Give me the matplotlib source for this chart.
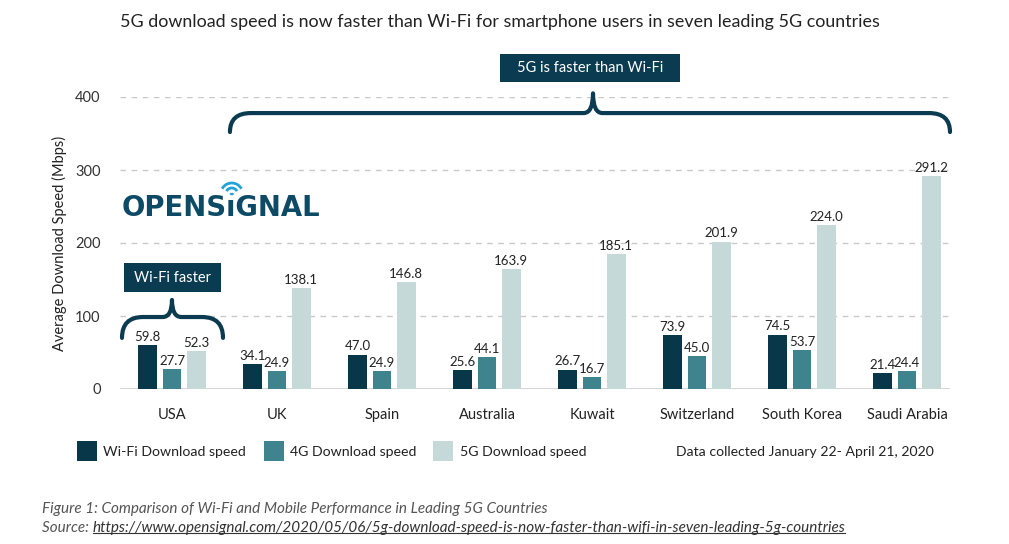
import matplotlib
matplotlib.use("Agg")
import matplotlib.pyplot as plt
from matplotlib.path import Path
from matplotlib.patches import PathPatch, Rectangle, Arc
import numpy as np

plt.rcParams['font.family'] = ['Lato', 'DejaVu Sans']

countries = ["USA", "UK", "Spain", "Australia", "Kuwait", "Switzerland", "South Korea", "Saudi Arabia"]
wifi = [59.8, 34.1, 47.0, 25.6, 26.7, 73.9, 74.5, 21.4]
g4 = [27.7, 24.9, 24.9, 44.1, 16.7, 45.0, 53.7, 24.4]
g5 = [52.3, 138.1, 146.8, 163.9, 185.1, 201.9, 224.0, 291.2]
series_names = ["Wi-Fi Download speed", "4G Download speed", "5G Download speed"]
yticks = [0, 100, 200, 300, 400]

c_wifi = "#08374a"
c_4g = "#3f838f"
c_5g = "#c5d9d8"
colors = [c_wifi, c_4g, c_5g]
navy = "#0b3b50"

W, H = 1009, 544
fig = plt.figure(figsize=(10.09, 5.44), dpi=100)
ax = fig.add_axes([120/W, 1-389/H, 830/W, 292/H])

x = np.arange(len(countries))
bw = 0.18
off = 0.23
for i, (vals, col) in enumerate(zip([wifi, g4, g5], colors)):
    pos = x + (i-1)*off
    ax.bar(pos, vals, width=bw, color=col, zorder=3)
    for p, v in zip(pos, vals):
        ax.text(p, v + 3, f"{v:.1f}", ha='center', va='bottom', fontsize=9.5, color='#222222', zorder=4)

ax.set_xlim(-0.495, 7.41)
ax.set_ylim(0, 400)
ax.set_yticks(yticks)
ax.set_yticklabels([str(t) for t in yticks], fontsize=10.5, color='#333333')
ax.set_xticks(x)
ax.set_xticklabels(countries, fontsize=10.5, color='#222222')
ax.tick_params(axis='both', length=0)
ax.tick_params(axis='y', pad=14)
ax.tick_params(axis='x', pad=14)
for s in ax.spines.values():
    s.set_visible(False)
for t in yticks[1:]:
    ax.axhline(t, color='#c8c8c8', lw=1, ls=(0, (4, 4)), zorder=1)
ax.axhline(0, color='#cfcfcf', lw=2, zorder=2)
ax.set_ylabel("Average Download Speed (Mbps)", fontsize=10.5, color='#222222', labelpad=6)

def brace(x0, x1, xc, yend, yh, ytip, r, rt):
    verts = [(x0, yend), (x0, yh), (x0 + r, yh),
             (xc - rt, yh), (xc, yh), (xc, ytip),
             (xc, yh), (xc + rt, yh),
             (x1 - r, yh), (x1, yh), (x1, yend)]
    codes = [Path.MOVETO, Path.CURVE3, Path.CURVE3,
             Path.LINETO, Path.CURVE3, Path.CURVE3,
             Path.CURVE3, Path.CURVE3,
             Path.LINETO, Path.CURVE3, Path.CURVE3]
    p = PathPatch(Path(verts, codes), fill=False, ec=navy, lw=3, clip_on=False, zorder=5,
                  capstyle='round', joinstyle='round')
    ax.add_patch(p)

brace(0.552, 7.41, 4.01, 352, 378, 405, 0.2, 0.09)
brace(-0.476, 0.486, 0.0, 70, 98.6, 122, 0.2, 0.09)

def box(px0, px1, py0, py1, text):
    fig.patches.append(Rectangle((px0/W, 1-py1/H), (px1-px0)/W, (py1-py0)/H,
                                 transform=fig.transFigure, fc=navy, ec='none'))
    fig.text((px0+px1)/2/W, 1-(py0+py1)/2/H, text, ha='center', va='center',
             color='white', fontsize=10.5)

box(500, 680, 54, 82, "5G is faster than Wi-Fi")
box(124, 221, 263, 292, "Wi-Fi faster")

fig.text(120/W, 1-22/H, "5G download speed is now faster than Wi-Fi for smartphone users in seven leading 5G countries",
         fontsize=12.85, color='#222222', va='center', ha='left')

# logo
logo = fig.text(122/W, 1-208/H, "OPENSıGNAL", fontsize=19.8, fontweight='bold', color='#0d4a66',
                va='center', ha='left', family=['DejaVu Sans'])
fig.canvas.draw()
r = fig.canvas.get_renderer()
pre = fig.text(0, 0, "OPENS", fontsize=19.8, fontweight='bold', family=['DejaVu Sans'])
ib = fig.text(0, 0, "ı", fontsize=19.8, fontweight='bold', family=['DejaVu Sans'])
lb = logo.get_window_extent(r)
w_pre = pre.get_window_extent(r).width
w_i = ib.get_window_extent(r).width
pre.remove(); ib.remove()
icx = lb.x0 + w_pre + w_i/2
icy = H - 194
blue = "#23a3d9"
fig.patches.append(plt.Circle((icx/W, icy/H), 2.2/W, transform=fig.transFigure, fc=blue, ec='none'))
for rad in (6, 11):
    fig.patches.append(Arc((icx/W, icy/H), 2*rad/W, 2*rad/H, theta1=45, theta2=135,
                           transform=fig.transFigure, color=blue, lw=2))

# legend
leg_items = [(77, 103), (264, 290), (433, 460)]
for (sx, tx), col, name in zip(leg_items, colors, series_names):
    fig.patches.append(Rectangle((sx/W, 1-461/H), 20/W, 20/H,
                                 transform=fig.transFigure, fc=col, ec='none'))
    fig.text(tx/W, 1-452/H, name, fontsize=10.2, color='#222222', va='center', ha='left')
fig.text(676/W, 1-452/H, "Data collected January 22- April 21, 2020", fontsize=10.1,
         color='#222222', va='center', ha='left')

fig.text(42/W, 1-509/H, "Figure 1: Comparison of Wi-Fi and Mobile Performance in Leading 5G Countries",
         fontsize=11.0, style='italic', color='#555555', va='center', ha='left')
src = fig.text(42/W, 1-528/H, "Source: ", fontsize=11.0, style='italic', color='#555555',
               va='center', ha='left')
fig.canvas.draw()
bb = src.get_window_extent(r)
url = fig.text(bb.x1/W, 1-528/H, "https://www.opensignal.com/2020/05/06/5g-download-speed-is-now-faster-than-wifi-in-seven-leading-5g-countries",
               fontsize=11.0, style='italic', color='#333333', va='center', ha='left')
fig.canvas.draw()
ub = url.get_window_extent(r)
fig.add_artist(plt.Line2D([ub.x0/W, ub.x1/W], [(ub.y0+2)/H, (ub.y0+2)/H],
                          transform=fig.transFigure, color='#333333', lw=0.8))

fig.savefig("out.png", dpi=100)
